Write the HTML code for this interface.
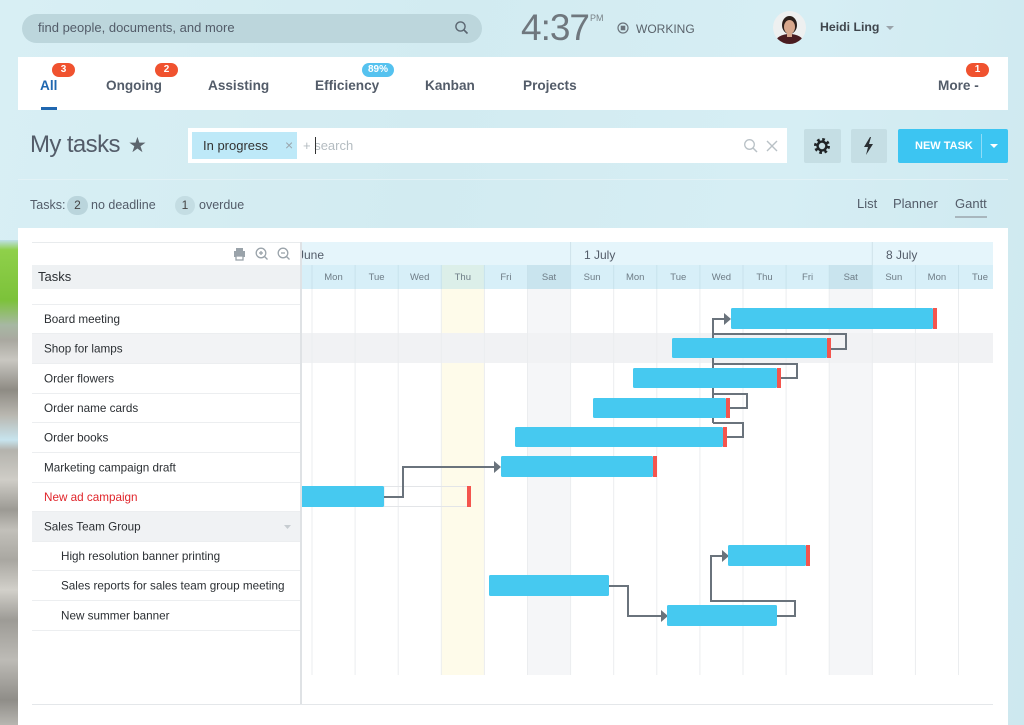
<!DOCTYPE html>
<html><head><meta charset="utf-8">
<style>
*{margin:0;padding:0;box-sizing:border-box}
html,body{width:1024px;height:725px;overflow:hidden}
body{position:relative;font-family:"Liberation Sans",Arial,sans-serif;background:linear-gradient(100deg,#d8eff4 0%,#d2ebf1 40%,#d6eef4 70%,#cde8ef 100%);color:#535c69}
.a{position:absolute;white-space:nowrap}
.badge{position:absolute;height:14px;border-radius:7px;color:#fff;font-size:10px;font-weight:bold;text-align:center;line-height:14px}
.tab{position:absolute;top:78px;font-size:13.6px;font-weight:bold;color:#535c69}
</style></head><body>
<!-- left decoration -->
<div class="a" style="left:0;top:240px;width:18px;height:485px;background:linear-gradient(180deg,#bfe0ea 0px,#8fd04a 10px,#7cc23a 60px,#a7b8a3 85px,#a9a8a0 100px,#c9c7c1 120px,#8e8b84 150px,#b9b7b0 175px,#c7e4ee 200px,#b4b3ad 210px,#cfcdc7 240px,#9c9a94 270px,#c2c0ba 290px,#a9a7a1 320px,#d2d0ca 350px,#9d9b96 380px,#bdbbb6 420px,#8f8d88 460px,#b8b6b1 485px)"></div>

<!-- top search -->
<div class="a" style="left:22px;top:14px;width:460px;height:29px;border-radius:15px;background:#bcd6dc"></div>
<div class="a" style="left:38px;top:20px;font-size:13px;color:#535c69">find people, documents, and more</div>
<svg class="a" style="left:454px;top:20px" width="16" height="16" viewBox="0 0 16 16"><circle cx="6.5" cy="6.5" r="4.6" fill="none" stroke="#5a6570" stroke-width="1.4"/><line x1="10" y1="10" x2="13.5" y2="13.5" stroke="#5a6570" stroke-width="1.6"/></svg>

<div class="a" style="left:521px;top:7px;font-size:37px;color:#6f777e;letter-spacing:-1px">4:37</div>
<div class="a" style="left:590px;top:13px;font-size:9px;color:#7a8288">PM</div>
<svg class="a" style="left:617px;top:22px" width="12" height="12"><circle cx="6" cy="6" r="5" fill="none" stroke="#6a737b" stroke-width="1.2"/><rect x="3.7" y="3.7" width="4.6" height="4.6" fill="#6a737b"/></svg>
<div class="a" style="left:636px;top:22px;font-size:12px;color:#5a636b">WORKING</div>
<svg class="a" style="left:773px;top:11px" width="33" height="33" viewBox="0 0 33 33"><defs><clipPath id="av"><circle cx="16.5" cy="16.5" r="16.5"/></clipPath></defs><g clip-path="url(#av)"><rect width="33" height="33" fill="#eef0f0"/><ellipse cx="16.5" cy="31" rx="14" ry="8" fill="#4a1c20"/><ellipse cx="16.5" cy="14" rx="7.5" ry="9" fill="#2b1f1b"/><ellipse cx="16.5" cy="16" rx="5.5" ry="7" fill="#d7a78c"/><rect x="14" y="21" width="5" height="5" fill="#d7a78c"/></g></svg>
<div class="a" style="left:820px;top:20px;font-size:12.3px;font-weight:bold;color:#3f464d">Heidi Ling</div>
<svg class="a" style="left:886px;top:26px" width="9" height="6"><polygon points="0,0 8,0 4,4" fill="#9aa3aa"/></svg>

<!-- nav bar -->
<div class="a" style="left:18px;top:57px;width:990px;height:53px;background:#fff"></div>
<div class="tab" style="left:40px;color:#2067b0">All</div>
<div class="a" style="left:41px;top:107px;width:16px;height:3px;background:#2067b0"></div>
<div class="badge" style="left:52px;top:63px;width:23px;background:#f0522f">3</div>
<div class="tab" style="left:106px">Ongoing</div>
<div class="badge" style="left:155px;top:63px;width:23px;background:#f0522f">2</div>
<div class="tab" style="left:208px">Assisting</div>
<div class="tab" style="left:315px">Efficiency</div>
<div class="badge" style="left:362px;top:63px;width:32px;background:#55c2ef">89%</div>
<div class="tab" style="left:425px">Kanban</div>
<div class="tab" style="left:523px">Projects</div>
<div class="tab" style="left:938px">More -</div>
<div class="badge" style="left:966px;top:63px;width:23px;background:#f0522f">1</div>

<!-- my tasks row -->
<div class="a" style="left:30px;top:131px;font-size:24px;color:#535c69;letter-spacing:-0.6px">My tasks</div>
<div class="a" style="left:128px;top:133px;font-size:21px;color:#5c656d">★</div>
<div class="a" style="left:188px;top:128px;width:599px;height:35px;background:#fff"></div>
<div class="a" style="left:192px;top:132px;width:105px;height:27px;background:#bee9f8"></div>
<div class="a" style="left:203px;top:138px;font-size:13px;color:#333">In progress</div>
<div class="a" style="left:285px;top:137px;font-size:14px;color:#9aa6ad">×</div>
<div class="a" style="left:303px;top:138px;font-size:13px;color:#b4bcc1">+ search</div>
<div class="a" style="left:315px;top:137px;width:1px;height:17px;background:#333"></div>
<svg class="a" style="left:743px;top:138px" width="16" height="16"><circle cx="6.5" cy="6.5" r="4.8" fill="none" stroke="#b9c1c6" stroke-width="1.3"/><line x1="10" y1="10" x2="14" y2="14" stroke="#b9c1c6" stroke-width="1.5"/></svg>
<svg class="a" style="left:766px;top:140px" width="12" height="12"><path d="M1,1 L11,11 M11,1 L1,11" stroke="#b9c1c6" stroke-width="1.4"/></svg>

<div class="a" style="left:804px;top:129px;width:37px;height:34px;background:#c5dee4;border-radius:2px"></div>
<svg class="a" style="left:812px;top:136px" width="20" height="20" viewBox="0 0 20 20"><circle cx="10" cy="10" r="6.3" fill="none" stroke="#1f2326" stroke-width="3.4" stroke-dasharray="2.5 2.45"/><circle cx="10" cy="10" r="4.4" fill="none" stroke="#1f2326" stroke-width="2.4"/></svg>
<div class="a" style="left:851px;top:129px;width:36px;height:34px;background:#c5dee4;border-radius:2px"></div>
<svg class="a" style="left:863px;top:137px" width="12" height="19"><polygon points="7,0 1,10 5,10 3,18 10,7 6,7 8,0" fill="#2a2f33"/></svg>
<div class="a" style="left:898px;top:129px;width:110px;height:34px;background:#3cc5f2;border-radius:2px"></div>
<div class="a" style="left:915px;top:140px;font-size:11px;font-weight:bold;color:#fff">NEW TASK</div>
<div class="a" style="left:981px;top:134px;width:1px;height:24px;background:#8fdcf7"></div>
<svg class="a" style="left:990px;top:144px" width="9" height="6"><polygon points="0,0 8,0 4,4" fill="#fff"/></svg>

<div class="a" style="left:18px;top:179px;width:990px;height:1px;background:#e3f2f6"></div>

<!-- tasks counters -->
<div class="a" style="left:30px;top:198px;font-size:12.5px;color:#535c69">Tasks:</div>
<div class="a" style="left:67px;top:196px;width:21px;height:19px;border-radius:10px;background:#bad5dc;font-size:12px;color:#444;text-align:center;line-height:19px">2</div>
<div class="a" style="left:91px;top:198px;font-size:12.5px;color:#535c69">no deadline</div>
<div class="a" style="left:175px;top:196px;width:20px;height:19px;border-radius:10px;background:#c4dde3;font-size:12px;color:#444;text-align:center;line-height:19px">1</div>
<div class="a" style="left:199px;top:198px;font-size:12.5px;color:#535c69">overdue</div>
<div class="a" style="left:857px;top:196px;font-size:13px;color:#535c69">List</div>
<div class="a" style="left:893px;top:196px;font-size:13px;color:#535c69">Planner</div>
<div class="a" style="left:955px;top:196px;font-size:13px;color:#535c69">Gantt</div>
<div class="a" style="left:955px;top:216px;width:32px;height:2px;background:#a8b6bd"></div>

<!-- white panel -->
<div class="a" style="left:18px;top:228px;width:990px;height:497px;background:#fff"></div>

<svg class="a" style="left:0;top:0" width="1024" height="725" viewBox="0 0 1024 725" font-family="Liberation Sans, Arial, sans-serif">
<defs><clipPath id="gc"><rect x="302" y="242" width="691" height="470"/></clipPath></defs>
<!-- list header -->
<line x1="32" y1="242.5" x2="300" y2="242.5" stroke="#e8ebed"/>
<g fill="none" stroke="#9aa3aa" stroke-width="1.3">
<rect x="234" y="251" width="11" height="6" fill="#9aa3aa" stroke="none"/><rect x="236" y="248" width="7" height="3" fill="#9aa3aa" stroke="none"/><rect x="236" y="256" width="7" height="4" fill="#fff"/>
<circle cx="261" cy="253" r="4.8"/><line x1="264.5" y1="256.5" x2="267.5" y2="259.5"/><line x1="259" y1="253" x2="263" y2="253"/><line x1="261" y1="251" x2="261" y2="255"/>
<circle cx="283" cy="253" r="4.8"/><line x1="286.5" y1="256.5" x2="289.5" y2="259.5"/><line x1="281" y1="253" x2="285" y2="253"/>
</g>
<rect x="32" y="265" width="268" height="24" fill="#eef1f3"/>
<text x="38" y="281" font-size="13" fill="#2b2f33">Tasks</text>

<!-- highlighted rows in list -->
<rect x="32" y="333" width="268" height="30" fill="#f2f3f5"/>
<rect x="32" y="511" width="268" height="30" fill="#f0f2f4"/>
<g stroke="#eceef0" stroke-width="1">
<line x1="32" y1="304.5" x2="300" y2="304.5"/><line x1="32" y1="333.5" x2="300" y2="333.5"/><line x1="32" y1="363.5" x2="300" y2="363.5"/><line x1="32" y1="393.5" x2="300" y2="393.5"/><line x1="32" y1="422.5" x2="300" y2="422.5"/><line x1="32" y1="452.5" x2="300" y2="452.5"/><line x1="32" y1="482.5" x2="300" y2="482.5"/><line x1="32" y1="511.5" x2="300" y2="511.5"/><line x1="32" y1="541.5" x2="300" y2="541.5"/><line x1="32" y1="570.5" x2="300" y2="570.5"/><line x1="32" y1="600.5" x2="300" y2="600.5"/><line x1="32" y1="630.5" x2="300" y2="630.5"/>
</g>
<g font-size="11.7" fill="#2b2f33">
<text x="44" y="323">Board meeting</text>
<text x="44" y="352.5">Shop for lamps</text>
<text x="44" y="382.5">Order flowers</text>
<text x="44" y="412">Order name cards</text>
<text x="44" y="441.5">Order books</text>
<text x="44" y="471.5">Marketing campaign draft</text>
<text x="44" y="501" fill="#e0252b">New ad campaign</text>
<text x="44" y="530.5">Sales Team Group</text>
<text x="61" y="560">High resolution banner printing</text>
<text x="61" y="589.5">Sales reports for sales team group meeting</text>
<text x="61" y="619.5">New summer banner</text>
</g>
<polygon points="284,525 291,525 287.5,529" fill="#c6ccd0"/>

<!-- gantt -->
<g clip-path="url(#gc)">
<rect x="302" y="242" width="691" height="23" fill="#e5f5fb"/>
<rect x="302" y="265" width="691" height="24" fill="#d7eff8"/>
<rect x="527.5" y="265" width="43.1" height="24" fill="#c9e4ee"/>
<rect x="829.2" y="265" width="43.1" height="24" fill="#c9e4ee"/>
<rect x="441.3" y="265" width="43.1" height="24" fill="#dcefe9"/>
<line x1="570.6" y1="242" x2="570.6" y2="265" stroke="#cfe2ea"/>
<line x1="872.3" y1="242" x2="872.3" y2="265" stroke="#cfe2ea"/>
<text x="298" y="259" font-size="12" fill="#535c69">June</text>
<text x="584" y="259" font-size="12" fill="#535c69">1 July</text>
<text x="886" y="259" font-size="12" fill="#535c69">8 July</text>
<g stroke="#c8e2ec">
<line x1="312" y1="265" x2="312" y2="289"/><line x1="355.1" y1="265" x2="355.1" y2="289"/><line x1="398.2" y1="265" x2="398.2" y2="289"/><line x1="441.3" y1="265" x2="441.3" y2="289"/><line x1="484.4" y1="265" x2="484.4" y2="289"/><line x1="527.5" y1="265" x2="527.5" y2="289"/><line x1="570.6" y1="265" x2="570.6" y2="289"/><line x1="613.7" y1="265" x2="613.7" y2="289"/><line x1="656.8" y1="265" x2="656.8" y2="289"/><line x1="699.9" y1="265" x2="699.9" y2="289"/><line x1="743" y1="265" x2="743" y2="289"/><line x1="786.1" y1="265" x2="786.1" y2="289"/><line x1="829.2" y1="265" x2="829.2" y2="289"/><line x1="872.3" y1="265" x2="872.3" y2="289"/><line x1="915.4" y1="265" x2="915.4" y2="289"/><line x1="958.5" y1="265" x2="958.5" y2="289"/>
</g>
<g font-size="9.5" fill="#6e7c86" text-anchor="middle">
<text x="333.5" y="280">Mon</text><text x="376.6" y="280">Tue</text><text x="419.7" y="280">Wed</text><text x="462.8" y="280">Thu</text><text x="505.9" y="280">Fri</text><text x="549" y="280">Sat</text><text x="592.1" y="280">Sun</text><text x="635.2" y="280">Mon</text><text x="678.3" y="280">Tue</text><text x="721.4" y="280">Wed</text><text x="764.5" y="280">Thu</text><text x="807.6" y="280">Fri</text><text x="850.7" y="280">Sat</text><text x="893.8" y="280">Sun</text><text x="936.9" y="280">Mon</text><text x="980" y="280">Tue</text>
</g>
<!-- body -->
<rect x="441.3" y="289" width="43.1" height="386" fill="#fefbea"/>
<rect x="527.5" y="289" width="43.1" height="386" fill="#f5f6f8"/>
<rect x="829.2" y="289" width="43.1" height="386" fill="#f5f6f8"/>
<rect x="302" y="333" width="691" height="30" fill="#f1f2f4"/>
<g stroke="#ebedef">
<line x1="312" y1="289" x2="312" y2="675"/><line x1="355.1" y1="289" x2="355.1" y2="675"/><line x1="398.2" y1="289" x2="398.2" y2="675"/><line x1="441.3" y1="289" x2="441.3" y2="675"/><line x1="484.4" y1="289" x2="484.4" y2="675"/><line x1="527.5" y1="289" x2="527.5" y2="675"/><line x1="570.6" y1="289" x2="570.6" y2="675"/><line x1="613.7" y1="289" x2="613.7" y2="675"/><line x1="656.8" y1="289" x2="656.8" y2="675"/><line x1="699.9" y1="289" x2="699.9" y2="675"/><line x1="743" y1="289" x2="743" y2="675"/><line x1="786.1" y1="289" x2="786.1" y2="675"/><line x1="829.2" y1="289" x2="829.2" y2="675"/><line x1="872.3" y1="289" x2="872.3" y2="675"/><line x1="915.4" y1="289" x2="915.4" y2="675"/><line x1="958.5" y1="289" x2="958.5" y2="675"/>
</g>

<!-- outline for new ad campaign -->
<rect x="384" y="486.5" width="84" height="20" fill="none" stroke="#e3e5e8"/>

<!-- connectors -->
<g fill="none" stroke="#6a737c" stroke-width="2">
<path d="M831,349 H846 V334 H713"/>
<path d="M781,378 H797 V364 H713"/>
<path d="M730,408 H747 V394 H713"/>
<path d="M727,437 H743 V423 H713"/>
<path d="M713,423 V319 H725"/>
<path d="M384,497 H403 V467 H495"/>
<path d="M609,586 H628 V616 H662"/>
<path d="M777,616 H795 V601 H711 V556 H723"/>
</g>
<g fill="#6a737c">
<polygon points="724,313 731,319 724,325"/>
<polygon points="494,461 501,467 494,473"/>
<polygon points="661,610 668,616 661,622"/>
<polygon points="722,550 729,556 722,562"/>
</g>

<!-- bars -->
<g fill="#46c9f0">
<rect x="731" y="308" width="202" height="21" rx="1.5"/>
<rect x="672" y="338" width="155" height="20" rx="1.5"/>
<rect x="633" y="368" width="144" height="20" rx="1.5"/>
<rect x="593" y="398" width="133" height="20" rx="1.5"/>
<rect x="515" y="427" width="208" height="20" rx="1.5"/>
<rect x="501" y="456" width="152" height="21" rx="1.5"/>
<rect x="300" y="486" width="84" height="21" rx="1.5"/>
<rect x="728" y="545" width="78" height="21" rx="1.5"/>
<rect x="489" y="575" width="120" height="21" rx="1.5"/>
<rect x="667" y="605" width="110" height="21" rx="1.5"/>
</g>
<g fill="#f4554e">
<rect x="933" y="308" width="4" height="21"/>
<rect x="827" y="338" width="4" height="20"/>
<rect x="777" y="368" width="4" height="20"/>
<rect x="726" y="398" width="4" height="20"/>
<rect x="723" y="427" width="4" height="20"/>
<rect x="653" y="456" width="4" height="21"/>
<rect x="467" y="486" width="4" height="21"/>
<rect x="806" y="545" width="4" height="21"/>
</g>
</g>
<!-- divider & bottom -->
<rect x="300" y="242" width="2" height="463" fill="#dfe2e5"/>
<line x1="32" y1="704.5" x2="993" y2="704.5" stroke="#e4e7ea"/>
</svg>
</body></html>
